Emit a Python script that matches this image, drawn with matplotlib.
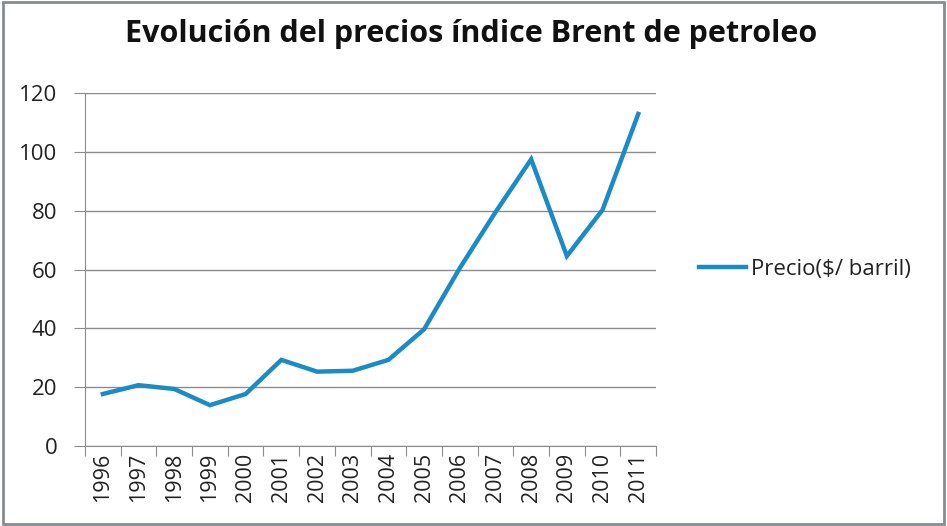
import matplotlib
matplotlib.use("Agg")
import matplotlib.pyplot as plt
from matplotlib.patches import Rectangle

# Datos
years = ["1996", "1997", "1998", "1999", "2000", "2001", "2002", "2003",
         "2004", "2005", "2006", "2007", "2008", "2009", "2010", "2011"]
precio = [17.7, 20.7, 19.4, 13.9, 17.7, 29.3, 25.3, 25.6,
          29.3, 39.7, 60.5, 79.5, 97.5, 64.6, 80.3, 112.9]
yticks = [0, 20, 40, 60, 80, 100, 120]

plt.rcParams['font.family'] = ['Open Sans', 'DejaVu Sans']
grey = '#8c8c8c'
blue = '#1a8bc6'
txt = '#222222'

fig = plt.figure(figsize=(9.47, 5.26), dpi=100)
ax = fig.add_axes([0.0898, 0.152, 0.603, 0.671])

x = list(range(len(years)))
ax.plot(x, precio, color=blue, linewidth=3.2, solid_joinstyle='miter',
        label='Precio($/ barril)')

ax.set_xlim(-0.5, len(years) - 0.5)
ax.set_ylim(0, 120)
ax.set_yticks(yticks)
ax.set_yticklabels([str(v) for v in yticks], fontsize=16, color=txt)
ax.grid(axis='y', color=grey, linewidth=1)
ax.set_axisbelow(True)

# ticks en los bordes de categoría, etiquetas centradas
ax.set_xticks([i - 0.5 for i in range(len(years) + 1)])
ax.set_xticklabels([])
ax.set_xticks(x, minor=True)
ax.set_xticklabels(years, minor=True, rotation=90, fontsize=15.5, color=txt)
ax.tick_params(axis='x', which='major', length=7, color=grey, direction='out')
ax.tick_params(axis='x', which='minor', length=0, pad=5)
ax.tick_params(axis='y', length=8, color=grey, pad=12)

for side in ['top', 'right']:
    ax.spines[side].set_visible(False)
for side in ['left', 'bottom']:
    ax.spines[side].set_color(grey)

fig.text(0.498, 0.935, 'Evolución del precios índice Brent de petroleo',
         ha='center', va='center', fontsize=22, fontweight='bold', color='#111111')

leg = ax.legend(loc='center left', bbox_to_anchor=(1.04, 0.5), frameon=False,
                fontsize=16, handlelength=2.1, handletextpad=0.25)
for t in leg.get_texts():
    t.set_color(txt)

# marco exterior
fig.patches.append(Rectangle((0.003, 0.004), 0.994, 0.992, transform=fig.transFigure,
                             facecolor='none', edgecolor='#868c93', linewidth=2))

fig.savefig('out.png', dpi=100)
